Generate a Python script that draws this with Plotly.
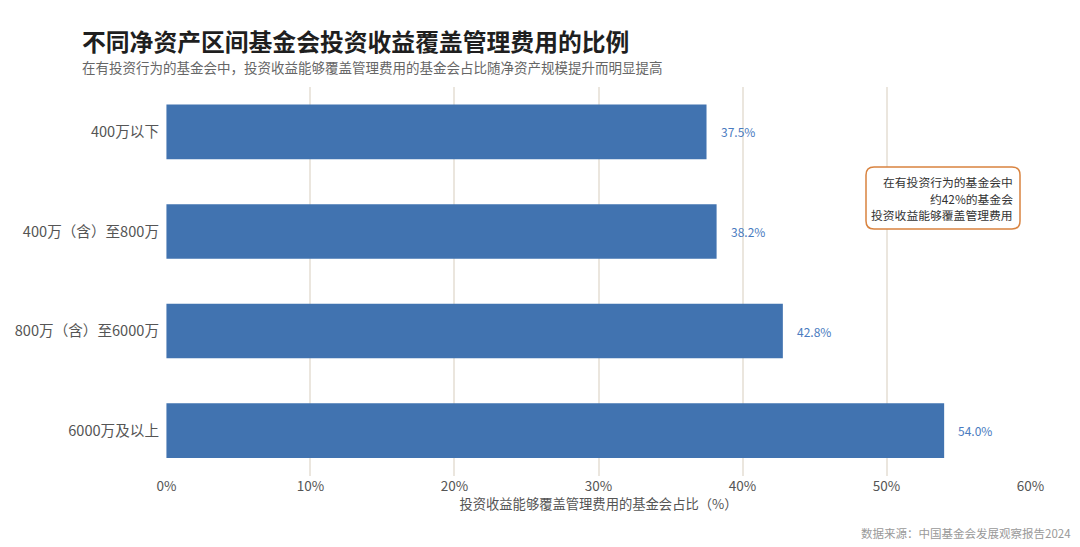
import plotly.graph_objects as go

categories = ["400万以下", "400万（含）至800万", "800万（含）至6000万", "6000万及以上"]
values = [37.5, 38.2, 42.8, 54.0]
value_labels = ["37.5%", "38.2%", "42.8%", "54.0%"]
x_ticks = [0, 10, 20, 30, 40, 50, 60]
x_tick_labels = ["0%", "10%", "20%", "30%", "40%", "50%", "60%"]
note_lines = ["在有投资行为的基金会中", "约42%的基金会", "投资收益能够覆盖管理费用"]

FONT = "Noto Sans CJK SC"
BAR = "#4173b0"

fig = go.Figure()
fig.add_trace(go.Bar(
    y=categories, x=values, orientation="h",
    marker=dict(color=BAR, line=dict(width=0)),
    width=0.55, hoverinfo="skip",
))

for c, v, t in zip(categories, values, value_labels):
    fig.add_annotation(x=v, y=c, xref="x", yref="y", text=t, showarrow=False,
                       xanchor="left", xshift=12,
                       font=dict(family=FONT, size=12, color="#4a7bc0"))

W, H = 1080, 547
L, R, T, B = 166, 49, 87, 71
pw, ph = W - L - R, H - T - B

def px(x):
    return (x - L) / pw

def py(y):
    return (H - B - y) / ph

# rounded annotation box
x0, x1, y0, y1, r = 866, 1020, 167, 229, 8
path = (f"M {px(x0 + r)},{py(y0)} L {px(x1 - r)},{py(y0)} "
        f"Q {px(x1)},{py(y0)} {px(x1)},{py(y0 + r)} L {px(x1)},{py(y1 - r)} "
        f"Q {px(x1)},{py(y1)} {px(x1 - r)},{py(y1)} L {px(x0 + r)},{py(y1)} "
        f"Q {px(x0)},{py(y1)} {px(x0)},{py(y1 - r)} L {px(x0)},{py(y0 + r)} "
        f"Q {px(x0)},{py(y0)} {px(x0 + r)},{py(y0)} Z")
fig.add_shape(type="path", path=path, xref="paper", yref="paper",
              line=dict(color="#d9833f", width=1.5), fillcolor="white", layer="above")
for i, line in enumerate(note_lines):
    fig.add_annotation(xref="paper", yref="paper", x=px(1015), y=py(181.5 + i * 16.5),
                       xanchor="right", yanchor="middle", align="right", showarrow=False,
                       text=line, font=dict(family=FONT, size=11.8, color="#333333"))

fig.add_annotation(xref="paper", yref="paper", x=px(80), y=py(40), xanchor="left", yanchor="middle",
                   text="<b>不同净资产区间基金会投资收益覆盖管理费用的比例</b>", showarrow=False,
                   font=dict(family=FONT, size=23.8, color="#1f1f1f"))
fig.add_annotation(xref="paper", yref="paper", x=px(80), y=py(67), xanchor="left", yanchor="middle",
                   text="在有投资行为的基金会中，投资收益能够覆盖管理费用的基金会占比随净资产规模提升而明显提高",
                   showarrow=False, font=dict(family=FONT, size=13.5, color="#666666"))
fig.add_annotation(xref="paper", yref="paper", x=px(1073), y=py(533), xanchor="right", yanchor="middle",
                   text="数据来源：中国基金会发展观察报告2024", showarrow=False,
                   font=dict(family=FONT, size=11.5, color="#999999"))

fig.update_layout(
    width=W, height=H, margin=dict(l=L, r=R, t=T, b=B),
    plot_bgcolor="white", paper_bgcolor="white", showlegend=False,
    font=dict(family=FONT),
    xaxis=dict(range=[-0.03, 60.03], tickvals=x_ticks, ticktext=x_tick_labels,
               showgrid=True, gridcolor="#ebe6de", gridwidth=1.5, zeroline=False,
               showline=False, ticks="", tickfont=dict(size=13.5, color="#555555"),
               title=dict(text="投资收益能够覆盖管理费用的基金会占比（%）",
                          font=dict(size=13.3, color="#555555"), standoff=4)),
    yaxis=dict(categoryorder="array", categoryarray=categories, range=[3.457, -0.452],
               showgrid=False, zeroline=False, showline=False, ticks="",
               tickfont=dict(size=14.6, color="#555555"), ticklabelstandoff=6),
    bargap=0.45,
)

fig.write_html("out.html")
